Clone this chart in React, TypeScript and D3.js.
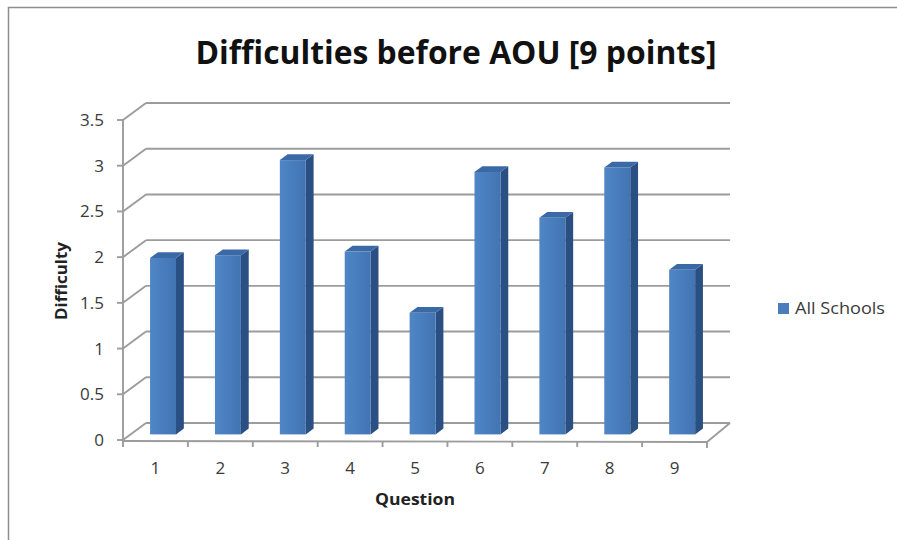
import React from "react";
import * as d3 from "d3";

const categories = ["1", "2", "3", "4", "5", "6", "7", "8", "9"];
const values = [1.93, 1.96, 3.0, 2.0, 1.33, 2.87, 2.37, 2.92, 1.8];
const yTicks = [0, 0.5, 1, 1.5, 2, 2.5, 3, 3.5];
const seriesName = "All Schools";
const title = "Difficulties before AOU [9 points]";

const W = 897;
const H = 540;
const DX = 23;
const DY = -17;
const F0 = 0.33; // bar front depth fraction
const F1 = 0.67; // bar back depth fraction

export default function App() {
  const x = d3.scaleBand<string>().domain(categories).range([123, 707]).padding(0);
  const y = d3.scaleLinear().domain([0, 3.5]).range([440, 120]);
  const step = x.bandwidth();
  const bw = step * 0.4;
  const grid = "#9c9c9c";
  const sw = 1.9;
  const font = "'Open Sans', 'DejaVu Sans', sans-serif";

  const x0 = 123;
  const x1 = 707;

  return (
    <svg
      width={W}
      height={H}
      style={{ position: "absolute", left: 0, top: 0, background: "#fff" }}
    >
      <defs>
        <linearGradient id="front" x1="0" x2="1" y1="0" y2="0">
          <stop offset="0" stopColor="#4f86c6" />
          <stop offset="1" stopColor="#4274b3" />
        </linearGradient>
      </defs>
      <rect x={8.5} y={7.5} width={900} height={560} fill="#fff" stroke="#8e8e8e" strokeWidth={1.5} />

      <text
        x={456}
        y={64}
        textAnchor="middle"
        fontFamily={font}
        fontWeight={700}
        fontSize={33}
        textLength={521}
        lengthAdjust="spacingAndGlyphs"
        fill="#111"
      >
        {title}
      </text>

      {/* back wall gridlines and left wall diagonals */}
      {yTicks.map((t) => (
        <g key={"g" + t}>
          <line x1={x0 + DX} x2={x1 + DX} y1={y(t) + DY} y2={y(t) + DY} stroke={grid} strokeWidth={sw} />
          <line x1={x0} x2={x0 + DX} y1={y(t)} y2={y(t) + DY} stroke={grid} strokeWidth={sw} />
        </g>
      ))}

      {/* floor */}
      <line x1={x0} x2={x1} y1={y(0) + 1} y2={y(0) + 2} stroke={grid} strokeWidth={sw} />
      <line x1={x1} x2={x1 + DX} y1={y(0) + 2} y2={y(0) + DY} stroke={grid} strokeWidth={sw} />

      {/* y axis */}
      <line x1={x0} x2={x0} y1={y(3.5)} y2={y(0) + 1} stroke={grid} strokeWidth={sw} />
      {yTicks.map((t) => (
        <g key={"t" + t}>
          <line x1={x0 - 6} x2={x0} y1={y(t)} y2={y(t)} stroke={grid} strokeWidth={sw} />
          <text
            x={104}
            y={y(t)}
            dy="0.35em"
            textAnchor="end"
            fontFamily={font}
            fontSize={17}
            fill="#3a3a3a"
          >
            {t}
          </text>
        </g>
      ))}

      {/* x ticks */}
      {categories.map((c, i) => {
        const xb = (x(c) as number) + step;
        return i < categories.length - 1 ? (
          <line key={"xt" + c} x1={xb} x2={xb} y1={y(0) + 1.5} y2={y(0) + 7} stroke={grid} strokeWidth={sw} />
        ) : null;
      })}
      <line x1={x0} x2={x0} y1={y(0)} y2={y(0) + 7} stroke={grid} strokeWidth={sw} />
      <line x1={x1} x2={x1} y1={y(0) + 2} y2={y(0) + 8} stroke={grid} strokeWidth={sw} />

      {/* bars */}
      {categories.map((c, i) => {
        const v = values[i];
        const fx = (x(c) as number) + step * 0.3 + F0 * DX;
        const fyB = y(0) + F0 * DY;
        const fyT = y(v) + F0 * DY;
        const sdx = (F1 - F0) * DX;
        const sdy = (F1 - F0) * DY;
        const top = `M${fx},${fyT} L${fx + sdx},${fyT + sdy} L${fx + bw + sdx},${fyT + sdy} L${fx + bw},${fyT} Z`;
        const side = `M${fx + bw},${fyT} L${fx + bw + sdx},${fyT + sdy} L${fx + bw + sdx},${fyB + sdy} L${fx + bw},${fyB} Z`;
        return (
          <g key={"b" + c}>
            <path d={side} fill="#2a4f82" />
            <path d={top} fill="#3a69a6" />
            <rect x={fx} y={fyT} width={bw} height={fyB - fyT} fill="url(#front)" />
          </g>
        );
      })}

      {/* x labels */}
      {categories.map((c) => (
        <text
          key={"xl" + c}
          x={(x(c) as number) + step / 2}
          y={468}
          dy="0.35em"
          textAnchor="middle"
          fontFamily={font}
          fontSize={17}
          fill="#3a3a3a"
        >
          {c}
        </text>
      ))}

      <text
        x={415}
        y={505}
        textAnchor="middle"
        fontFamily={font}
        fontWeight={700}
        fontSize={16}
        textLength={80}
        lengthAdjust="spacingAndGlyphs"
        fill="#222"
      >
        Question
      </text>
      <text
        transform="translate(67,281) rotate(-90)"
        textAnchor="middle"
        fontFamily={font}
        fontWeight={700}
        fontSize={16}
        textLength={78}
        lengthAdjust="spacingAndGlyphs"
        fill="#222"
      >
        Difficulty
      </text>

      {/* legend */}
      <rect x={778} y={303} width={11} height={11} fill="#4a7dbb" />
      <text x={795} y={314} fontFamily={font} fontSize={16} fill="#3a3a3a" textLength={90} lengthAdjust="spacingAndGlyphs">
        {seriesName}
      </text>
    </svg>
  );
}
